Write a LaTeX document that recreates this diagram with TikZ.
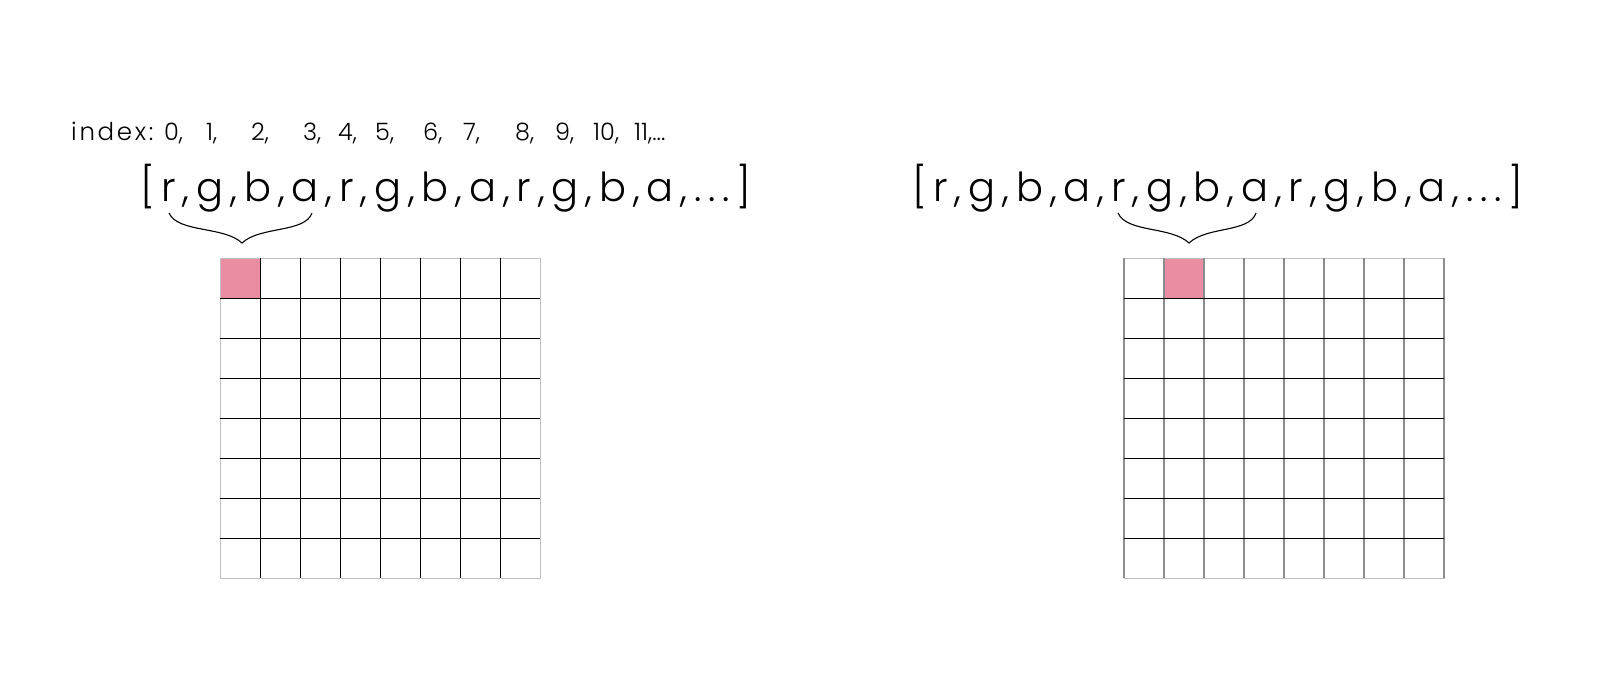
\documentclass[tikz,border=0pt]{standalone}
\usepackage{fontspec}
\setmainfont{Poppins}[UprightFont=* Light]
\newfontfamily\arrfont{Poppins}[UprightFont=* Light, LetterSpace=17.0]
\newfontfamily\idxfont{Poppins}[UprightFont=* Light, LetterSpace=11]
\begin{document}
\begin{tikzpicture}[x=1pt,y=-1pt,
  idx/.style={anchor=base west,inner sep=0pt,font=\fontsize{24}{28}\selectfont},
  idxword/.style={anchor=base west,inner sep=0pt,font=\idxfont\fontsize{24.5}{28}\selectfont},
  arr/.style={anchor=base west,inner sep=0pt,font=\arrfont\fontsize{40}{48}\selectfont},
  bracecurve/.style={draw=black,line width=1.1pt},
  gridA/.style={draw=black,line width=0.9pt},
  gridB/.style={draw=black!45,line width=1.2pt},
  gridborder/.style={draw=black!25,line width=1pt},
  hl/.style={fill=pinkfill,draw=none}]
\definecolor{pinkfill}{HTML}{EA8CA2}
\useasboundingbox (0,0) rectangle (1600,672);
% index labels
\node[idxword] (ix)  at (71,140) {index:};
\node[idx] (i0)  at (164,140) {0,};
\node[idx] (i1)  at (206,140) {1,};
\node[idx] (i2)  at (251,140) {2,};
\node[idx] (i3)  at (303,140) {3,};
\node[idx] (i4)  at (338,140) {4,};
\node[idx] (i5)  at (375,140) {5,};
\node[idx] (i6)  at (423,140) {6,};
\node[idx] (i7)  at (463,140) {7,};
\node[idx] (i8)  at (515,140) {8,};
\node[idx] (i9)  at (555,140) {9,};
\node[idx] (i10) at (593,140) {10,};
\node[idx] (i11) at (634,140) {11,...};
% arrays
\node[arr] (arrL) at (140,201) {[r,g,b,a,r,g,b,a,r,g,b,a,...]};
\node[arr] (arrR) at (912,201) {[r,g,b,a,r,g,b,a,r,g,b,a,...]};
% braces
\coordinate (bLa) at (169,213);
\coordinate (bLt) at (242,243);
\coordinate (bLb) at (312,213);
\draw[bracecurve] (bLa) .. controls (178,233) and (224,226) .. (bLt)
                        .. controls (260,226) and (305,233) .. (bLb);
\coordinate (bRa) at (1118,213);
\coordinate (bRt) at (1189,243);
\coordinate (bRb) at (1256,213);
\draw[bracecurve] (bRa) .. controls (1127,233) and (1171,226) .. (bRt)
                        .. controls (1207,226) and (1249,233) .. (bRb);
% left grid
\fill[hl] (220,258) rectangle (260,298);
\draw[gridborder] (220,258) rectangle (540,578);
\foreach \i in {1,...,7} {
  \draw[gridA] (220+40*\i,258) -- (220+40*\i,578);
  \draw[gridA] (220,258+40*\i) -- (540,258+40*\i);
}
% right grid
\fill[hl] (1164,258) rectangle (1204,298);
\draw[gridborder] (1124,258) rectangle (1444,578);
\foreach \i in {1,...,7} {
  \draw[gridB] (1124+40*\i,258) -- (1124+40*\i,578);
}
\draw[gridB] (1124,258) -- (1124,578);
\draw[gridB] (1444,258) -- (1444,578);
\foreach \i in {1,...,7} {
  \draw[gridA] (1124,258+40*\i) -- (1444,258+40*\i);
}
\end{tikzpicture}
\end{document}
